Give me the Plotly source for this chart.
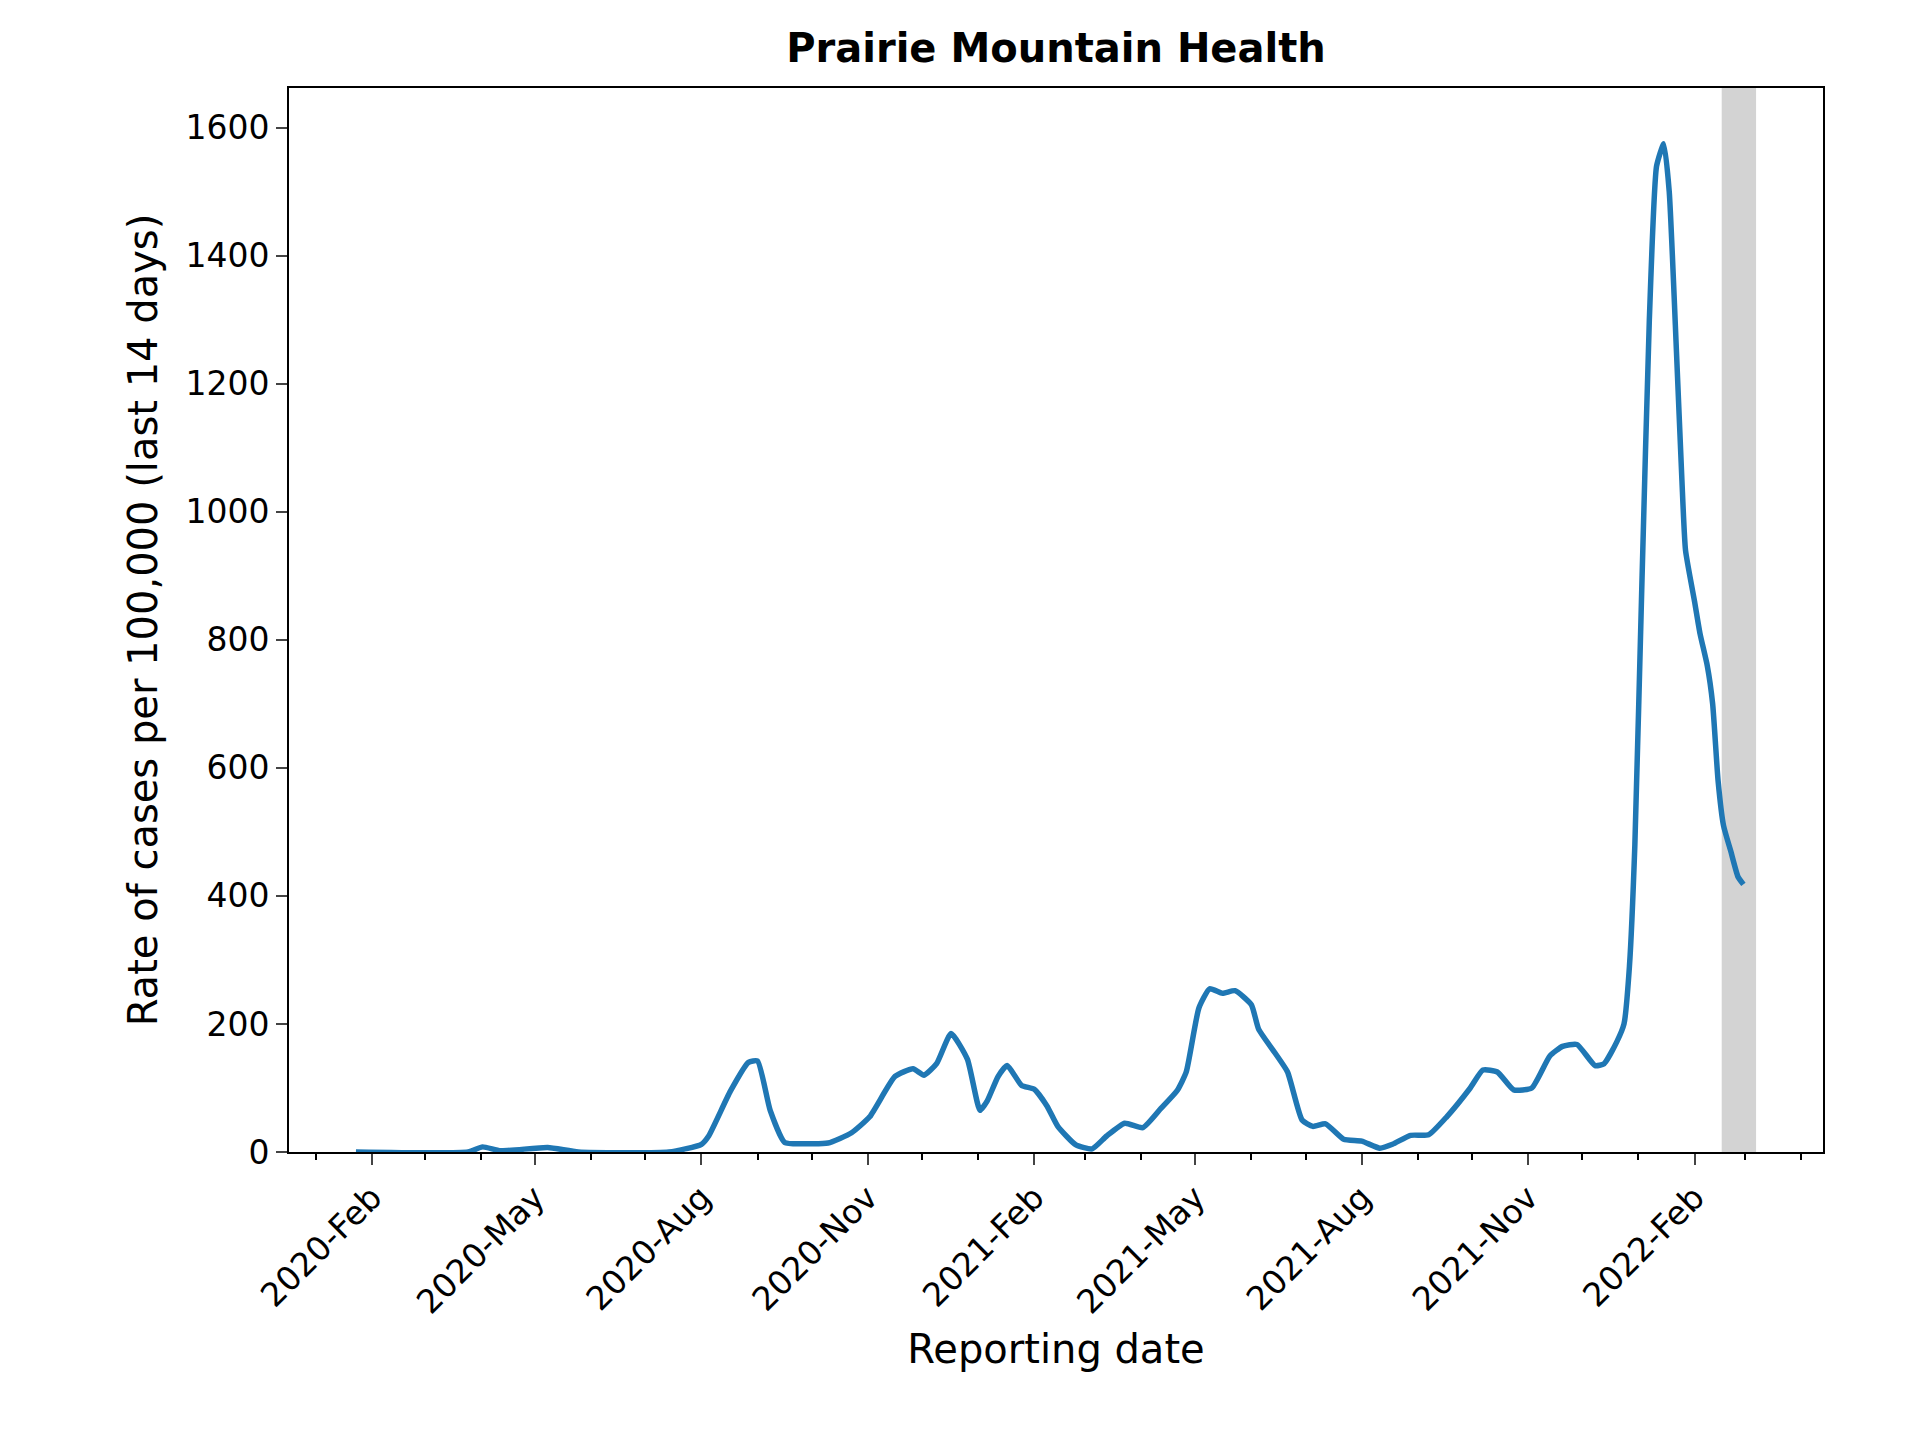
import plotly.graph_objects as go

# reporting date / 14-day rate per 100,000
dates = ["2020-01-23", "2020-03-25", "2020-04-02", "2020-04-12", "2020-05-08", "2020-05-25",
         "2020-07-14", "2020-08-01", "2020-08-05", "2020-08-17", "2020-08-27", "2020-09-01",
         "2020-09-08", "2020-09-16", "2020-09-27", "2020-10-10", "2020-10-23", "2020-11-02",
         "2020-11-16", "2020-11-26", "2020-12-02", "2020-12-09", "2020-12-17", "2020-12-26",
         "2021-01-02", "2021-01-06", "2021-01-12", "2021-01-17", "2021-01-25", "2021-02-01",
         "2021-02-08", "2021-02-14", "2021-02-24", "2021-03-05", "2021-03-13", "2021-03-23",
         "2021-04-02", "2021-04-12", "2021-04-21", "2021-04-26", "2021-05-03", "2021-05-09",
         "2021-05-16", "2021-05-23", "2021-06-01", "2021-06-05", "2021-06-14", "2021-06-21",
         "2021-06-29", "2021-07-05", "2021-07-12", "2021-07-22", "2021-08-01", "2021-08-11",
         "2021-08-18", "2021-08-28", "2021-09-07", "2021-09-17", "2021-09-30", "2021-10-07",
         "2021-10-15", "2021-10-24", "2021-11-03", "2021-11-13", "2021-11-20", "2021-11-28",
         "2021-12-08", "2021-12-13", "2021-12-20", "2021-12-24", "2021-12-27", "2021-12-30",
         "2022-01-03", "2022-01-07", "2022-01-11", "2022-01-15", "2022-01-18", "2022-01-22",
         "2022-01-25", "2022-01-27", "2022-02-01", "2022-02-04", "2022-02-08", "2022-02-11",
         "2022-02-14", "2022-02-17", "2022-02-21", "2022-02-25", "2022-02-28"]
rates = [0, 0, 8, 2, 7, 0,
         0, 12, 25, 95, 140, 142,
         65, 15, 13, 14, 30, 55,
         118, 130, 120, 138, 185, 145,
         65, 80, 118, 135, 104, 98,
         72, 40, 11, 5, 25, 45,
         38, 68, 96, 125, 225, 255,
         248, 252, 230, 192, 155, 125,
         50, 40, 44, 20, 17, 6,
         12, 26, 27, 55, 100, 128,
         125, 97, 100, 150, 165, 168,
         135, 138, 172, 200, 290, 480,
         900, 1300, 1540, 1575, 1500, 1250,
         1050, 940, 860, 810, 760, 700,
         580, 510, 470, 430, 418]

band_start, band_end = "2022-02-16", "2022-03-07"

fig = go.Figure()
fig.add_vrect(x0=band_start, x1=band_end, fillcolor="#d3d3d3", opacity=1,
              line_width=0, layer="below")
fig.add_trace(go.Scatter(x=dates, y=rates, mode="lines",
                         line=dict(color="#1f77b4", width=5.5, shape="spline", smoothing=0.5)))

fig.update_layout(
    width=1920, height=1440, plot_bgcolor="white", paper_bgcolor="white",
    showlegend=False,
    font=dict(family="DejaVu Sans", color="black", size=33),
    title=dict(text="<b>Prairie Mountain Health</b>", x=0.5, xanchor="center",
               xref="paper", y=1 - 40 / 1440, yanchor="middle", font=dict(size=40)),
    margin=dict(l=281, r=1920 - 1815, t=80, b=1440 - 1144),
)
fig.update_xaxes(
    range=["2019-12-17", "2022-04-13"], tick0="2020-02-01", dtick="M3",
    tickformat="%Y-%b", tickangle=-45, ticks="outside", ticklen=11, tickwidth=2,
    minor=dict(dtick="M1", ticks="outside", ticklen=6, tickwidth=1.5, tickcolor="black"),
    showline=True, linecolor="black", linewidth=2, mirror=True, showgrid=False,
    title=dict(text="Reporting date", font=dict(size=40)), zeroline=False,
)
fig.update_yaxes(
    range=[0, 1662], dtick=200, ticks="outside", ticklen=11, tickwidth=2,
    showline=True, linecolor="black", linewidth=2, mirror=True, showgrid=False,
    title=dict(text="Rate of cases per 100,000 (last 14 days)", font=dict(size=40)),
    zeroline=False,
)
fig.write_html("out.html")
